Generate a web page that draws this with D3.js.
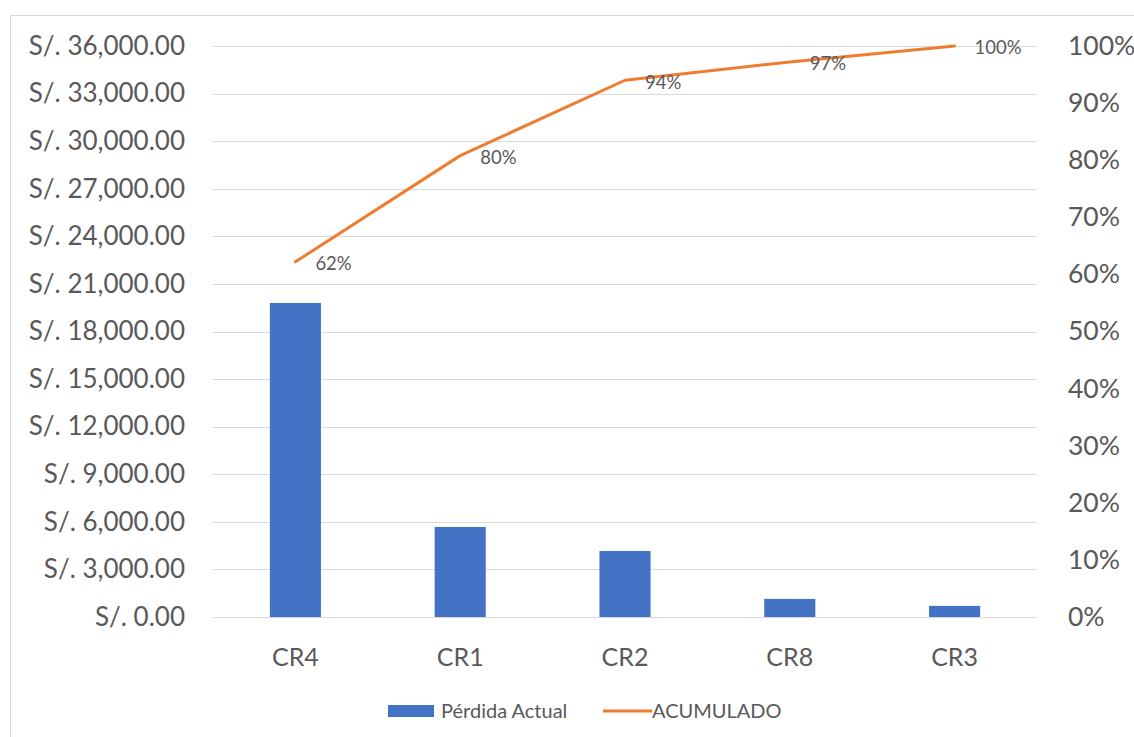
<!DOCTYPE html>
<html>
<head>
<meta charset="utf-8">
<script src="https://cdn.jsdelivr.net/npm/d3@7"></script>
<style>
  body { margin: 0; background: #fff; }
  text { font-family: Lato, "Open Sans", sans-serif; }
</style>
</head>
<body>
<svg id="chart"></svg>
<script>
const categories = ["CR4", "CR1", "CR2", "CR8", "CR3"];
const perdida = [19800, 5680, 4160, 1140, 700];
const acumulado = [0.622, 0.808, 0.94, 0.972, 1.0];
const acumuladoLabels = ["62%", "80%", "94%", "97%", "100%"];
const leftTicks = d3.range(0, 36001, 3000);
const rightTicks = d3.range(0, 1.0001, 0.1);

const width = 1134;
const height = 737;
const margin = { top: 46, right: 97, bottom: 120, left: 213 };

const svg = d3.select("#chart")
    .attr("width", width)
    .attr("height", height);

// chart border
svg.append("rect")
    .attr("x", 10.5)
    .attr("y", 15.5)
    .attr("width", 1140)
    .attr("height", 740)
    .attr("fill", "none")
    .attr("stroke", "#d9d9d9");

const x = d3.scaleBand()
    .domain(categories)
    .range([margin.left, width - margin.right])
    .paddingInner(0.69)
    .paddingOuter(0.345);

const y = d3.scaleLinear()
    .domain([0, 36000])
    .range([height - margin.bottom, margin.top]);

const y2 = d3.scaleLinear()
    .domain([0, 1])
    .range([height - margin.bottom, margin.top]);

// gridlines
svg.append("g")
    .selectAll("line")
    .data(leftTicks)
    .join("line")
    .attr("x1", margin.left)
    .attr("x2", width - margin.right)
    .attr("y1", d => Math.round(y(d)) + 0.5)
    .attr("y2", d => Math.round(y(d)) + 0.5)
    .attr("stroke", "#d9d9d9")
    .attr("stroke-width", 1);

const money = d => "S/. " + d3.format(",.2f")(d);

const yAxis = svg.append("g")
    .attr("transform", `translate(${margin.left - 28}, 0)`)
    .call(d3.axisLeft(y).tickValues(leftTicks).tickFormat(money).tickSize(0).tickPadding(0));
yAxis.select(".domain").remove();
yAxis.selectAll("text")
    .attr("font-size", "26px")
    .attr("fill", "#595959");

const y2Axis = svg.append("g")
    .attr("transform", `translate(${width - margin.right + 31}, 0)`)
    .call(d3.axisRight(y2).tickValues(rightTicks).tickFormat(d3.format(".0%")).tickSize(0).tickPadding(0));
y2Axis.select(".domain").remove();
y2Axis.selectAll("text")
    .attr("font-size", "26.5px")
    .attr("fill", "#595959");

const xAxis = svg.append("g")
    .attr("transform", "translate(0, 648)")
    .call(d3.axisBottom(x).tickSize(0).tickPadding(0));
xAxis.select(".domain").remove();
xAxis.selectAll("text")
    .attr("font-size", "25px")
    .attr("fill", "#595959");

// bars
svg.append("g")
    .selectAll("rect")
    .data(categories)
    .join("rect")
    .attr("x", d => x(d))
    .attr("width", x.bandwidth())
    .attr("y", (d, i) => y(perdida[i]))
    .attr("height", (d, i) => y(0) - y(perdida[i]))
    .attr("fill", "#4472c4");

// cumulative line
const line = d3.line()
    .x((d, i) => x(categories[i]) + x.bandwidth() / 2)
    .y(d => y2(d));

svg.append("path")
    .datum(acumulado)
    .attr("d", line)
    .attr("fill", "none")
    .attr("stroke", "#ed7d31")
    .attr("stroke-width", 3)
    .attr("stroke-linejoin", "round")
    .attr("stroke-linecap", "round");

svg.append("g")
    .selectAll("text")
    .data(acumulado)
    .join("text")
    .attr("x", (d, i) => x(categories[i]) + x.bandwidth() / 2 + 20)
    .attr("y", d => y2(d) + 2)
    .attr("dy", "0.35em")
    .attr("font-size", "18.5px")
    .attr("fill", "#595959")
    .text((d, i) => acumuladoLabels[i]);

// legend
const legend = svg.append("g").attr("transform", "translate(388, 711)");
legend.append("rect")
    .attr("x", 0)
    .attr("y", -6)
    .attr("width", 46)
    .attr("height", 12)
    .attr("fill", "#4472c4");
legend.append("text")
    .attr("x", 53)
    .attr("y", 0)
    .attr("dy", "0.35em")
    .attr("font-size", "20px")
    .attr("fill", "#595959")
    .text("Pérdida Actual");
legend.append("line")
    .attr("x1", 215)
    .attr("x2", 264)
    .attr("y1", 0)
    .attr("y2", 0)
    .attr("stroke", "#ed7d31")
    .attr("stroke-width", 3);
legend.append("text")
    .attr("x", 264)
    .attr("y", 0)
    .attr("dy", "0.35em")
    .attr("font-size", "20px")
    .attr("fill", "#595959")
    .text("ACUMULADO");
</script>
</body>
</html>
